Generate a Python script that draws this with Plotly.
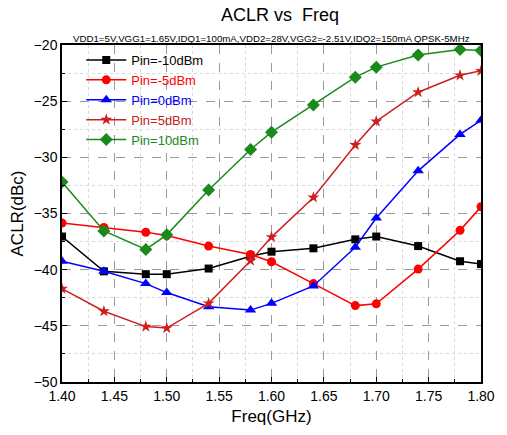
import plotly.graph_objects as go

freq = [1.40, 1.44, 1.48, 1.50, 1.54, 1.58, 1.60, 1.64, 1.68, 1.70, 1.74, 1.78, 1.80]
pin_m10 = [-37.05, -40.15, -40.4, -40.4, -39.9, -38.8, -38.4, -38.1, -37.3, -37.05, -37.9, -39.25, -39.5]
pin_m5 = [-35.85, -36.25, -36.67, -36.96, -37.9, -38.65, -39.3, -41.24, -43.2, -43.04, -39.95, -36.5, -34.4]
pin_0 = [-39.26, -40.15, -41.24, -42.04, -43.3, -43.6, -43.0, -41.45, -38.0, -35.4, -31.2, -27.96, -26.7]
pin_5 = [-41.7, -43.7, -45.07, -45.2, -43.0, -39.2, -37.1, -33.57, -28.9, -26.8, -24.2, -22.7, -22.3]
pin_10 = [-32.2, -36.55, -38.2, -36.9, -32.9, -29.3, -27.76, -25.34, -22.86, -21.97, -20.9, -20.4, -20.5]

series_names = ["Pin=-10dBm", "Pin=-5dBm", "Pin=0dBm", "Pin=5dBm", "Pin=10dBm"]
series_vals = [pin_m10, pin_m5, pin_0, pin_5, pin_10]
colors = ["#000000", "#ff0000", "#0000ff", "#cc2020", "#1a8a1a"]
symbols = ["square", "circle", "triangle-up", "star", "diamond"]
sizes = [8, 9, 10, 9, 10]

FONT = "Arial, Liberation Sans, sans-serif"

fig = go.Figure()
for name, vals, c, s, sz in zip(series_names, series_vals, colors, symbols, sizes):
    fig.add_trace(go.Scatter(
        x=freq, y=vals, mode="lines+markers",
        name=f"<span style='color:{c}'>{name}</span>",
        line=dict(color=c, width=1.5),
        marker=dict(color=c, symbol=s, size=sz, line=dict(width=0)),
    ))

axis_common = dict(
    showline=True, linecolor="black", linewidth=1.5, mirror=True,
    ticks="inside", ticklen=5, tickcolor="black", tickwidth=1,
    showgrid=True, gridcolor="#9a9a9a", gridwidth=1, griddash="dash",
    zeroline=False,
    tickfont=dict(family=FONT, size=14, color="black"),
)

fig.update_xaxes(
    range=[1.4, 1.8], dtick=0.05, tick0=1.4, tickformat=".2f",
    minor=dict(dtick=0.025, ticks="inside", ticklen=3, tickcolor="black",
               showgrid=True, gridcolor="#d8d8d8", griddash="dot"),
    title=dict(text="Freq(GHz)", font=dict(family=FONT, size=17, color="black"), standoff=8),
    **axis_common,
)
fig.update_yaxes(
    range=[-50, -20], dtick=5, tick0=-50,
    minor=dict(dtick=2.5, ticks="inside", ticklen=3, tickcolor="black",
               showgrid=True, gridcolor="#d8d8d8", griddash="dot"),
    title=dict(text="ACLR(dBc)", font=dict(family=FONT, size=17, color="black"), standoff=6),
    **axis_common,
)

fig.update_layout(
    width=507, height=435,
    margin=dict(l=62, r=15, t=45, b=51),
    paper_bgcolor="white", plot_bgcolor="white",
    font=dict(family=FONT, color="black"),
    showlegend=True,
    legend=dict(
        x=0.046, y=1.0, xanchor="left", yanchor="top",
        bgcolor="rgba(0,0,0,0)", borderwidth=0,
        font=dict(family=FONT, size=13),
        itemwidth=40, tracegroupgap=0,
    ),
    annotations=[
        dict(text="ACLR vs  Freq", xref="paper", yref="paper", x=0.5, y=1,
             xshift=8, yshift=30, xanchor="center", yanchor="middle", showarrow=False,
             font=dict(family=FONT, size=18, color="black")),
        dict(text="VDD1=5V,VGG1=1.65V,IDQ1=100mA,VDD2=28V,VGG2=-2.51V,IDQ2=150mA QPSK-5MHz",
             xref="paper", yref="paper", x=0.5, y=1, yshift=7,
             xanchor="center", yanchor="middle", showarrow=False,
             font=dict(family=FONT, size=9.7, color="black")),
    ],
)

fig.write_html("out.html")
